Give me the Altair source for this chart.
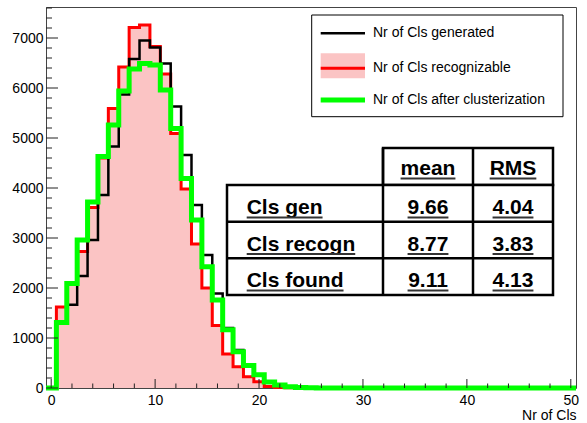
import altair as alt
import pandas as pd

# ---- data (bins centred on integers 0..50) ----
bins = list(range(0, 51))
gen = [0, 1320, 1665, 2240, 2960, 3860, 4830, 5870, 6580, 6950, 6810,
       6490, 5630, 4660, 3660, 2660, 1890, 1200, 760, 460, 260,
       130, 60, 27, 12, 5, 0, 0, 0, 0, 0,
       0, 0, 0, 0, 0, 0, 0, 0, 0, 0,
       0, 0, 0, 0, 0, 0, 0, 0, 0, 0]
rec = [0, 1620, 2080, 2730, 3610, 4600, 5590, 6420, 7210, 7260, 6830,
       6280, 5090, 3980, 2880, 2000, 1250, 680, 427, 227, 127,
       30, 10, 3, 0, 0, 0, 0, 0, 0, 0,
       0, 0, 0, 0, 0, 0, 0, 0, 0, 0,
       0, 0, 0, 0, 0, 0, 0, 0, 0, 0]
found = [0, 1310, 2090, 2960, 3720, 4630, 5260, 5940, 6380, 6490, 6460,
         5960, 5190, 4190, 3360, 2427, 1760, 1165, 727, 450, 265,
         120, 60, 27, 12, 5, 0, 0, 0, 0, 0,
         0, 0, 0, 0, 0, 0, 0, 0, 0, 0,
         0, 0, 0, 0, 0, 0, 0, 0, 0, 0]

x_labels = [0, 10, 20, 30, 40, 50]
x_minor = [2, 4, 6, 8, 12, 14, 16, 18, 22, 24, 26, 28, 32, 34, 36, 38, 42, 44, 46, 48]
y_labels = [0, 1000, 2000, 3000, 4000, 5000, 6000, 7000]
y_minor = [200, 400, 600, 800, 1200, 1400, 1600, 1800, 2200, 2400, 2600, 2800,
           3200, 3400, 3600, 3800, 4200, 4400, 4600, 4800, 5200, 5400, 5600, 5800,
           6200, 6400, 6600, 6800, 7200, 7400, 7600]

legend_labels = ["Nr of Cls generated", "Nr of Cls recognizable", "Nr of Cls after clusterization"]
table_header = ["mean", "RMS"]
table_rows = ["Cls gen", "Cls recogn", "Cls found"]
table_mean = ["9.66", "8.77", "9.11"]
table_rms = ["4.04", "3.83", "4.13"]

FONT = "Liberation Sans"
PINK = "#fbc4c4"
W, H = 530, 381

edges = [b - 0.5 for b in bins] + [bins[-1] + 0.5]
df = pd.DataFrame({
    "edge": edges,
    "gen": gen + [gen[-1]],
    "rec": rec + [rec[-1]],
    "found": found + [found[-1]],
})

xs = alt.Scale(domain=[-0.5, 50.5], nice=False, zero=False)
ys = alt.Scale(domain=[0, 7620], nice=False)

x_axis = alt.Axis(values=x_labels, ticks=False, domain=False, grid=False, format="d",
                  labelFont=FONT, labelFontSize=14, labelColor="black", labelPadding=5,
                  title="Nr of Cls", titleFont=FONT, titleFontSize=14, titleFontWeight="normal",
                  titleColor="black", titleAnchor="end", titleAlign="right", titlePadding=1)
y_axis = alt.Axis(values=y_labels, ticks=False, domain=False, grid=False, format="d",
                  labelFont=FONT, labelFontSize=14, labelColor="black", labelPadding=3,
                  title=None)


def X(field):
    return alt.X(f"{field}:Q", scale=xs, axis=x_axis, title="Nr of Cls")


def Y(field):
    return alt.Y(f"{field}:Q", scale=ys, axis=y_axis, title=None)


base = alt.Chart(df)
area = base.mark_area(interpolate="step-after", color=PINK).encode(x=X("edge"), y=Y("rec"))


def step_line(field, color, w):
    return base.mark_line(interpolate="step-after", color=color, strokeWidth=w).encode(
        x=X("edge"), y=Y(field))


red_line = step_line("rec", "#ff0000", 3)
black_line = step_line("gen", "#000000", 2.5)
green_line = step_line("found", "#00ff00", 5)


def xticks(vals, length):
    return alt.Chart(pd.DataFrame({"edge": vals})).mark_rule(color="#222", strokeWidth=1).encode(
        x=X("edge"), y=alt.value(H), y2=alt.value(H - length))


def yticks(vals, length):
    return alt.Chart(pd.DataFrame({"rec": vals})).mark_rule(color="#222", strokeWidth=1).encode(
        y=Y("rec"), x=alt.value(0), x2=alt.value(length))


one = pd.DataFrame({"k": [0]})


def rect(x1, y1, x2, y2, fill, stroke=None, sw=0):
    kw = dict(fill=fill)
    if stroke:
        kw.update(stroke=stroke, strokeWidth=sw)
    return alt.Chart(one).mark_rect(**kw).encode(
        x=alt.value(x1), x2=alt.value(x2), y=alt.value(y1), y2=alt.value(y2))


def rule(x1, y1, x2, y2, color, sw):
    return alt.Chart(one).mark_rule(color=color, strokeWidth=sw).encode(
        x=alt.value(x1), x2=alt.value(x2), y=alt.value(y1), y2=alt.value(y2))


def text(s, x, y, align="left", size=14, weight="normal", baseline="middle"):
    return alt.Chart(one).mark_text(font=FONT, fontSize=size, fontWeight=weight, align=align,
                                    baseline=baseline, color="black").encode(
        x=alt.value(x), y=alt.value(y), text=alt.value(s))


# Arial/Helvetica bold advance widths (per 1000 em) for underline lengths
BOLD_W = {"C": 722, "l": 278, "s": 556, " ": 278, "g": 611, "e": 556, "n": 611, "r": 389,
          "c": 556, "o": 611, "f": 333, "u": 611, "d": 611, "m": 889, "a": 556, "R": 722,
          "M": 833, "S": 667, ".": 278}


def text_width(s, size):
    return sum(BOLD_W.get(c, 556) for c in s) * size / 1000.0


def ul_text(s, x, y, align, size):
    w = text_width(s, size)
    x0 = x if align == "left" else x - w / 2
    return [text(s, x, y, align, size, "bold", "alphabetic"),
            rule(x0, y + 3.5, x0 + w, y + 3.5, "#333", 2)]


# legend
lx0, lx1, ly0, ly1 = 265.7, 517, 8, 109.7
rows_y = [26.3, 61.3, 93]
legend = [
    rect(lx0, ly0, lx1, ly1, "white", "black", 1),
    rule(274.7, rows_y[0], 319, rows_y[0], "#000000", 2.5),
    rect(274.7, 46.3, 319, 71.3, PINK),
    rule(274.7, rows_y[1], 319, rows_y[1], "#ff0000", 3),
    rule(274.7, rows_y[2], 319, rows_y[2], "#00ff00", 5),
] + [text(s, 327, y) for s, y in zip(legend_labels, rows_y)]

# table
tx0, tc1, tc2, tx1 = 181, 337, 427, 507
ty_head, ty0, ty1, ty2, ty3 = 141, 178, 214.7, 251.3, 288
base_y = [207, 243.5, 280]
FS = 21
table = [
    rect(tc1, ty_head, tx1, ty0, "white", "black", 2.5),
    rect(tx0, ty0, tx1, ty3, "white", "black", 2.5),
    rule(tc1, ty_head, tc1, ty3, "black", 2.5),
    rule(tc2, ty_head, tc2, ty3, "black", 2.5),
    rule(tx0, ty1, tx1, ty1, "black", 2.5),
    rule(tx0, ty2, tx1, ty2, "black", 2.5),
]
table += ul_text(table_header[0], (tc1 + tc2) / 2, 168, "center", FS)
table += ul_text(table_header[1], (tc2 + tx1) / 2, 168, "center", FS)
for name, m, r, by in zip(table_rows, table_mean, table_rms, base_y):
    table += ul_text(name, 200.7, by, "left", FS)
    table += ul_text(m, (tc1 + tc2) / 2, by, "center", FS)
    table += ul_text(r, (tc2 + tx1) / 2, by, "center", FS)

chart = alt.layer(
    area, red_line, black_line, green_line,
    xticks(x_labels, 9), xticks(x_minor, 4.5), yticks(y_labels, 12), yticks(y_minor, 6),
    *legend, *table,
).properties(
    width=W, height=H, autosize="none",
    padding={"left": 46, "top": 7, "right": 11, "bottom": 35},
    background="white",
).configure_view(stroke="#444", strokeWidth=1)

chart.save("out.html", embed_options={"renderer": "svg", "actions": False})
